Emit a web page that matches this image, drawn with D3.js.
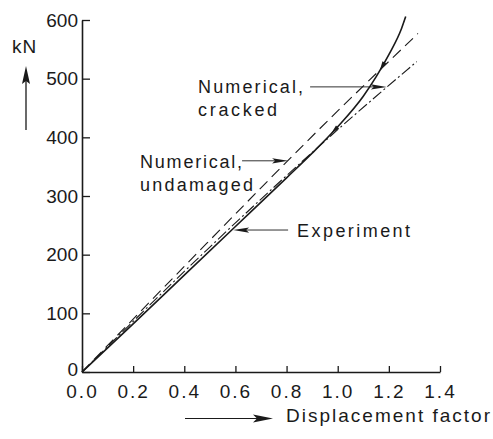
<!DOCTYPE html>
<html><head><meta charset="utf-8">
<script src="https://cdn.jsdelivr.net/npm/d3@7"></script>
<style>
body{margin:0;background:#fff;}
text{font-family:"Liberation Sans",Arial,sans-serif;fill:#1a1a1a;}
</style></head>
<body><svg id="c" width="493" height="439"></svg>
<script>
// ---- data ----
const xTicks = [0.0, 0.2, 0.4, 0.6, 0.8, 1.0, 1.2, 1.4];
const yTicks = [0, 100, 200, 300, 400, 500, 600];
const experimentX = [0, 0.2, 0.4, 0.6, 0.8, 0.9, 1.0, 1.1, 1.15, 1.2, 1.25, 1.266];
const experimentY = [0, 82, 165, 248, 331, 373, 418, 470, 503, 541, 586, 606];
const undamagedX = [0, 0.4, 1.0, 1.314];
const undamagedY = [0, 180, 445, 577];
const crackedX = [0, 0.5, 1.0, 1.309];
const crackedY = [0, 213, 413, 529];
const experimentArrowsAt = [0.975, 1.165];
const yLabel = "kN";
const xLabel = "Displacement factor";
// annotations: label lines, text anchor (data units), arrow tail -> tip (data units)
const annLines = [["Numerical,", "cracked"], ["Numerical,", "undamaged"], ["Experiment"]];
const annTextX = [0.454, 0.227, 0.841];
const annTextY = [476, 348, 230];
const annTailX = [0.892, 0.626, 0.806];
const annTipX = [1.192, 0.806, 0.591];
const annArrowY = [486, 360, 242];
const annLineWidths = [[105, 79], [102, 113], [113]];

// ---- chart ----
const svg = d3.select("#c");
const x = d3.scaleLinear().domain([0, 1.4]).range([82, 440]);
const y = d3.scaleLinear().domain([0, 600]).range([372, 20]);
const ink = "#1a1a1a";

const yAxis = svg.append("g").attr("transform", `translate(${x(0)},0)`)
  .call(d3.axisLeft(y).tickValues(yTicks).tickSize(-8).tickSizeOuter(0).tickPadding(4).tickFormat(d3.format("d")));
const xAxis = svg.append("g").attr("transform", `translate(0,${y(0)})`)
  .call(d3.axisBottom(x).tickValues(xTicks).tickSize(-6).tickSizeOuter(0).tickPadding(13).tickFormat(d3.format(".1f")));
[yAxis, xAxis].forEach(g => {
  g.select(".domain").attr("stroke", ink).attr("stroke-width", 1.6);
  g.selectAll(".tick line").attr("stroke", ink).attr("stroke-width", 1.3);
  g.selectAll(".tick text").attr("font-size", 19).attr("fill", ink)
    .style("font-family", '"Liberation Sans",Arial,sans-serif');
});
xAxis.selectAll(".tick text").attr("letter-spacing", 2);
yAxis.selectAll(".tick text").filter(d => d === 0).attr("dy", "0.2em");

const line = d3.line().x(d => x(d[0])).y(d => y(d[1]));
const expPts = experimentX.map((v, i) => [v, experimentY[i]]);
svg.append("path").datum(expPts)
  .attr("d", line.curve(d3.curveMonotoneX)).attr("fill", "none")
  .attr("stroke", ink).attr("stroke-width", 1.6);
svg.append("path").datum(undamagedX.map((v, i) => [v, undamagedY[i]]))
  .attr("d", d3.line().x(d => x(d[0])).y(d => y(d[1])).curve(d3.curveMonotoneX))
  .attr("fill", "none").attr("stroke", ink).attr("stroke-width", 1.1)
  .attr("stroke-dasharray", "11,6");
svg.append("path").datum(crackedX.map((v, i) => [v, crackedY[i]]))
  .attr("d", d3.line().x(d => x(d[0])).y(d => y(d[1])).curve(d3.curveMonotoneX))
  .attr("fill", "none").attr("stroke", ink).attr("stroke-width", 1.1)
  .attr("stroke-dasharray", "11,3,2,3");

// small direction arrowheads on experiment curve (pointing down along curve)
const expInterp = v => {
  const i = d3.bisectLeft(experimentX, v);
  const x0 = experimentX[i - 1], x1 = experimentX[i];
  const t = (v - x0) / (x1 - x0);
  return experimentY[i - 1] + t * (experimentY[i] - experimentY[i - 1]);
};
experimentArrowsAt.forEach(v => {
  const px = x(v), py = y(expInterp(v));
  const px2 = x(v + 0.02), py2 = y(expInterp(v + 0.02));
  const ang = Math.atan2(py - py2, px - px2) * 180 / Math.PI;
  svg.append("path").attr("d", "M0,0 L-9,-2.2 L-9,2.2 Z").attr("fill", ink)
    .attr("transform", `translate(${px},${py}) rotate(${ang})`);
});

// annotations
annLines.forEach((lines, k) => {
  lines.forEach((s, j) => {
    svg.append("text").attr("x", x(annTextX[k])).attr("y", y(annTextY[k]) + j * 23)
      .attr("font-size", 18).attr("textLength", annLineWidths[k][j]).attr("lengthAdjust", "spacing")
      .text(s);
  });
  const x1 = x(annTailX[k]), x2 = x(annTipX[k]), yy = y(annArrowY[k]);
  const dir = Math.sign(x2 - x1);
  svg.append("line").attr("x1", x1).attr("x2", x2 - dir * 10).attr("y1", yy).attr("y2", yy)
    .attr("stroke", ink).attr("stroke-width", 0.9);
  svg.append("path")
    .attr("d", `M${x2},${yy} L${x2 - dir * 16},${yy - 2.6} L${x2 - dir * 13},${yy} L${x2 - dir * 16},${yy + 2.6} Z`)
    .attr("fill", ink);
});

// axis titles with arrows
svg.append("text").attr("x", 12).attr("y", 53).attr("font-size", 19).attr("letter-spacing", 1).text(yLabel);
svg.append("line").attr("x1", 26).attr("x2", 26).attr("y1", 130).attr("y2", 78)
  .attr("stroke", ink).attr("stroke-width", 1.3);
svg.append("path").attr("d", "M26,66 L22,84 L26,81 L30,84 Z").attr("fill", ink);

svg.append("line").attr("x1", 185).attr("x2", 262).attr("y1", 418.5).attr("y2", 418.5)
  .attr("stroke", ink).attr("stroke-width", 1.2);
svg.append("path").attr("d", "M273,418.5 L253,414.5 L257,418.5 L253,422.5 Z").attr("fill", ink);
svg.append("text").attr("x", 286).attr("y", 422).attr("font-size", 19)
  .attr("textLength", 204).attr("lengthAdjust", "spacing").text(xLabel);
</script></body></html>
